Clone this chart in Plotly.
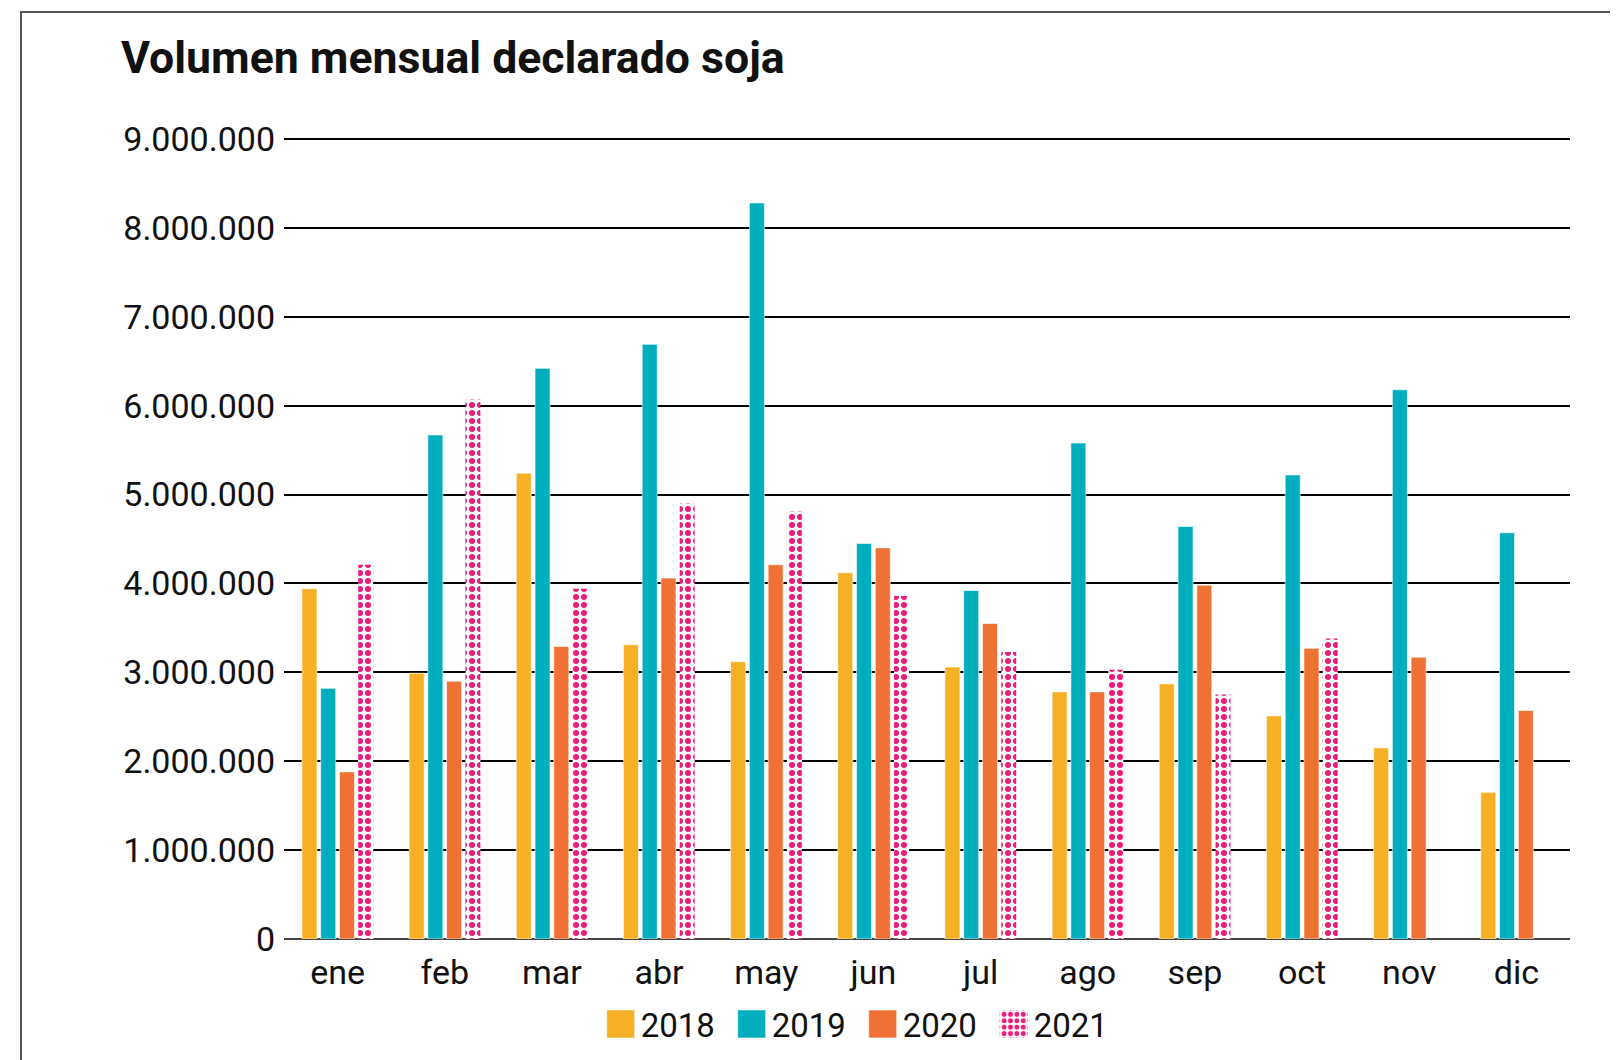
import plotly.graph_objects as go

meses = ['ene', 'feb', 'mar', 'abr', 'may', 'jun', 'jul', 'ago', 'sep', 'oct', 'nov', 'dic']

v2018 = [3940000, 2990000, 5240000, 3310000, 3120000, 4120000, 3060000, 2780000, 2870000, 2510000, 2150000, 1650000]
v2019 = [2820000, 5670000, 6420000, 6690000, 8280000, 4450000, 3920000, 5580000, 4640000, 5220000, 6180000, 4570000]
v2020 = [1880000, 2900000, 3290000, 4060000, 4210000, 4400000, 3550000, 2780000, 3980000, 3270000, 3170000, 2570000]
v2021 = [4210000, 6070000, 3940000, 4900000, 4810000, 3860000, 3230000, 3030000, 2750000, 3380000, None, None]

FONT = 'Roboto'

fig = go.Figure()
fig.add_trace(go.Bar(name='2018', x=meses, y=v2018, marker_color='#F6B026',
                     marker_line=dict(color='rgba(255,255,255,0.6)', width=1)))
fig.add_trace(go.Bar(name='2019', x=meses, y=v2019, marker_color='#00AEBD',
                     marker_line=dict(color='rgba(255,255,255,0.6)', width=1)))
fig.add_trace(go.Bar(name='2020', x=meses, y=v2020, marker_color='#EF7134',
                     marker_line=dict(color='rgba(255,255,255,0.6)', width=1)))
# 2021 con relleno de puntos
fig.add_trace(go.Bar(name='2021', x=meses, y=v2021,
                     marker=dict(color='white', line_width=0,
                                 pattern=dict(shape='.', fgcolor='#EC1C7B', bgcolor='white',
                                              fgopacity=1, size=8, solidity=0.45,
                                              fillmode='replace'))))

# la página html añade 8px de margen, se compensa en los márgenes
fig.update_layout(
    width=1618, height=1060,
    paper_bgcolor='white', plot_bgcolor='white',
    margin=dict(l=276, r=56, t=129, b=129),
    barmode='group', bargap=0.30, bargroupgap=0.2,
    separators=',.',
    font=dict(family=FONT, size=34, color='#111'),
    title=dict(text='<b>Volumen mensual declarado soja</b>', font=dict(family=FONT, size=44.6, color='#111'),
               xref='container', x=0.0698, xanchor='left',
               yref='container', y=0.953, yanchor='middle'),
    legend=dict(orientation='h', x=0.45, xanchor='center', y=-0.106, yanchor='middle',
                font=dict(size=33), itemwidth=30, entrywidth=86, traceorder='normal'),
    showlegend=True,
)
# el tope un poco por encima de 9M para que se dibuje esa línea de grilla
fig.update_yaxes(range=[0, 9022500], dtick=1000000, tickformat=',d',
                 showgrid=True, gridcolor='#000', gridwidth=1.6,
                 zeroline=True, zerolinecolor='#444', zerolinewidth=2,
                 ticks='', ticklabelstandoff=8, showline=False)
fig.update_xaxes(showgrid=False, showline=False, ticks='', ticklabelstandoff=10)

# marco alrededor del gráfico
fig.add_shape(type='rect', xref='paper', yref='paper', x0=-0.2045, x1=1.2, y0=-0.3, y1=1.156,
              line=dict(color='#555', width=2), fillcolor='rgba(0,0,0,0)', layer='above')

# símbolos de leyenda más grandes (sin escalar el patrón de puntos)
js = """
var gd = document.getElementById('{plot_id}');
gd.querySelectorAll('.legendpoints path').forEach(function(p){
    p.setAttribute('d', 'M14,14H-14V-14H14Z');
});
"""
fig.write_html("out.html", post_script=js)
